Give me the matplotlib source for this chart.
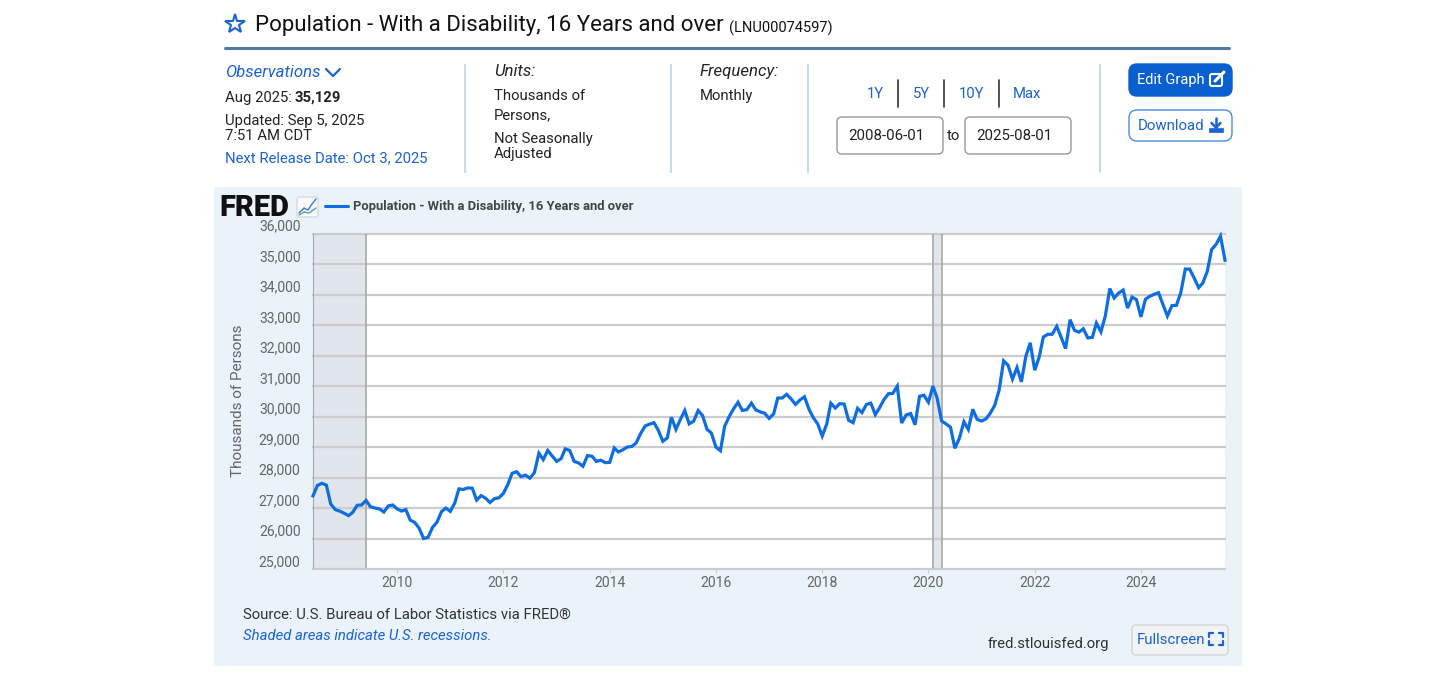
# -*- coding: utf-8 -*-
"""FRED page crop: population with a disability, 16 years and over."""
import matplotlib
matplotlib.use("Agg")
import matplotlib.pyplot as plt
import pandas as pd
from matplotlib.patches import FancyBboxPatch, Rectangle

W, H = 1450, 680
AZUL = "#1a62d6"
LINHA = "#0f6de2"
FUNDO = "#eaf2fa"
CINZA = "#666666"
TEXTO = "#222222"
CORPO = 14.9

plt.rcParams["font.family"] = ["Roboto", "DejaVu Sans"]

# values, one row per calendar year
v2008 = [27400, 27740, 27810, 27750, 27130, 26950, 26900]
v2009 = [26830, 26750, 26860, 27090, 27100, 27250, 27040, 27000, 26970, 26870, 27070, 27100]
v2010 = [26970, 26900, 26950, 26600, 26530, 26335, 26000, 26040, 26370, 26530, 26880, 27000]
v2011 = [26890, 27170, 27630, 27610, 27660, 27650, 27260, 27410, 27320, 27180, 27310, 27335]
v2012 = [27480, 27780, 28140, 28190, 28030, 28080, 27980, 28160, 28800, 28590, 28890, 28710]
v2013 = [28530, 28620, 28940, 28890, 28530, 28480, 28370, 28720, 28700, 28530, 28570, 28490]
v2014 = [28500, 28970, 28840, 28910, 29000, 29020, 29130, 29440, 29690, 29750, 29800, 29550]
v2015 = [29190, 29300, 29980, 29580, 29900, 30200, 29760, 29850, 30200, 30035, 29580, 29460]
v2016 = [29000, 28880, 29680, 30000, 30250, 30470, 30200, 30230, 30440, 30220, 30155, 30110]
v2017 = [29940, 30090, 30610, 30610, 30730, 30580, 30400, 30545, 30650, 30250, 29960, 29760]
v2018 = [29360, 29760, 30440, 30280, 30425, 30410, 29880, 29800, 30270, 30130, 30400, 30440]
v2019 = [30065, 30305, 30555, 30750, 30760, 31000, 29790, 30055, 30100, 29730, 30665, 30700]
v2020 = [30470, 31000, 30600, 29855, 29760, 29650, 28960, 29290, 29830, 29580, 30240, 29910]
v2021 = [29855, 29930, 30110, 30370, 30870, 31830, 31690, 31230, 31610, 31140, 31980, 32420]
v2022 = [31520, 31960, 32610, 32700, 32700, 32960, 32610, 32230, 33180, 32830, 32770, 32880]
v2023 = [32580, 32600, 33070, 32780, 33300, 34200, 33890, 34055, 34150, 33560, 33920, 33840]
v2024 = [33270, 33850, 33945, 34010, 34065, 33670, 33300, 33640, 33650, 34065, 34840, 34840]
v2025 = [34545, 34230, 34380, 34760, 35480, 35650, 35920, 35129]
valores = (v2008 + v2009 + v2010 + v2011 + v2012 + v2013 + v2014 + v2015 + v2016
           + v2017 + v2018 + v2019 + v2020 + v2021 + v2022 + v2023 + v2024 + v2025)
datas = pd.date_range("2008-06-01", periods=len(valores), freq="MS")

y_ticks = [25000, 26000, 27000, 28000, 29000, 30000, 31000, 32000, 33000, 34000, 35000, 36000]
x_anos = [2010, 2012, 2014, 2016, 2018, 2020, 2022, 2024]
recessoes = [("2008-06-01", "2009-06-01"), ("2020-02-01", "2020-04-01")]

fig = plt.figure(figsize=(W / 100, H / 100), dpi=100)
fig.patch.set_facecolor("white")

# page overlay in pixel coordinates, y going down
pg = fig.add_axes([0, 0, 1, 1])
pg.set_xlim(0, W)
pg.set_ylim(H, 0)
pg.axis("off")


def _t(x, y, s, px, cor=TEXTO, **kw):
    kw.setdefault("va", "center_baseline")
    return pg.text(x, y - 0.7, s, fontsize=px * 0.72, color=cor, **kw)


def _caixa(x0, y0, x1, y1, fc, ec, lw=1.0, r=5, z=2):
    pg.add_patch(FancyBboxPatch((x0 + r, y0 + r), x1 - x0 - 2 * r, y1 - y0 - 2 * r,
                                boxstyle=f"round,pad={r},rounding_size={r}",
                                fc=fc, ec=ec, lw=lw, zorder=z))


def _seg(xs, ys, cor, lw=1.5, z=3):
    pg.plot(xs, ys, color=cor, lw=lw, zorder=z, solid_capstyle="round")


# ------------------------------------------------------------ header
pg.plot([235.5], [24], marker="*", ms=15, mfc="none", mec=AZUL, mew=1.5)
_t(255, 24, "Population - With a Disability, 16 Years and over", 22.3, "#111111")
_t(729, 27, "(LNU00074597)", 14.6, "#111111")
_seg([225, 1229], [48, 48], "#4f7ca6", lw=2.2)

_t(225, 72, "Observations", 16.8, AZUL, style="italic")
_seg([326, 333, 340], [69, 76, 69], AZUL, lw=1.6)
_t(225, 97, "Aug 2025:", CORPO)
_t(295, 97, "35,129", CORPO, fontweight="bold")
_t(225, 120, "Updated: Sep 5, 2025", CORPO)
_t(225, 135, "7:51 AM CDT", CORPO)
_t(225, 157, "Next Release Date: Oct 3, 2025", CORPO, AZUL)

for x in [465, 671, 808, 1100]:
    _seg([x, x], [65, 172], "#c5dbe8", lw=1.5)

_t(494, 71, "Units:", 16.8, style="italic")
_t(494, 95, "Thousands of", CORPO)
_t(494, 114, "Persons,", CORPO)
_t(494, 138, "Not Seasonally", CORPO)
_t(494, 153, "Adjusted", CORPO)
_t(700, 71, "Frequency:", 16.8, style="italic")
_t(700, 95, "Monthly", CORPO)

for x, s in zip([875, 921, 972, 1027], ["1Y", "5Y", "10Y", "Max"]):
    _t(x, 93, s, CORPO, AZUL, ha="center")
for x in [898, 944, 999]:
    _seg([x, x], [80, 107], "#333333", lw=1.2)
_caixa(837, 117, 943, 154, "white", "#999999")
_caixa(965, 117, 1071, 154, "white", "#999999")
_t(886, 135, "2008-06-01", 15, ha="center")
_t(954, 135, "to", 15, ha="center")
_t(1014, 135, "2025-08-01", 15, ha="center")

_caixa(1129, 64, 1232, 96, "#0a5fcf", "#0a5fcf", r=8)
_t(1137, 79, "Edit Graph", 14.6, "white", zorder=4)
# edit icon
_caixa(1210, 74, 1222, 86, "none", "white", lw=1.5, r=2, z=4)
_seg([1215, 1224], [81, 72], "white", lw=2.2, z=5)

_caixa(1129, 110, 1232, 141, "white", "#4a8be0", r=8)
_t(1138, 125, "Download", 15, AZUL, zorder=4)
# download icon
_seg([1216, 1216], [118, 127], AZUL, lw=1.8, z=4)
_seg([1211.5, 1216, 1220.5], [123, 127.5, 123], AZUL, lw=1.8, z=4)
pg.add_patch(Rectangle((1209, 128), 14, 4, fc=AZUL, ec=AZUL, lw=0.5, zorder=4))

# ------------------------------------------------------------ chart panel
pg.add_patch(Rectangle((214, 187), 1028, 479, fc=FUNDO, ec="none", zorder=1))
_t(219, 205.5, "FRED", 29, "#111111", fontweight="black", zorder=4)
_caixa(297, 197, 318, 217, "#f7f9fb", "#cfd6dc", lw=0.8, r=2, z=3)
_seg([299, 304, 308, 312, 316], [213, 208, 210, 204, 199], "#3a7ad0", lw=1.0, z=4)
_seg([299, 304, 309, 316], [215, 212, 213, 208], "#4fa58a", lw=1.0, z=4)
_seg([325, 348], [206, 206], LINHA, lw=2.2)
_t(353, 206, "Population - With a Disability, 16 Years and over", 13, "#444444",
   fontweight="bold")
_t(238, 401, "Thousands of Persons", 15.3, CINZA, rotation=90, ha="center", va="center")

_t(243, 614, "Source: U.S. Bureau of Labor Statistics via FRED®", CORPO, "#333333")
_t(243, 635, "Shaded areas indicate U.S. recessions.", CORPO, AZUL, style="italic")
_t(988, 643, "fred.stlouisfed.org", CORPO, "#333333")
_caixa(1132, 625, 1228, 655, "#f1f3f5", "#d4d4d4", lw=1.0, r=4)
_t(1137, 639, "Fullscreen", 15, AZUL, zorder=4)
for xa, xb, ya, yb in [(1209, 1213, 637, 633), (1223, 1219, 637, 633),
                       (1209, 1213, 641, 645), (1223, 1219, 641, 645)]:
    _seg([xa, xa, xb], [ya, yb, yb], AZUL, lw=1.6, z=4)

# ------------------------------------------------------------ plot
esq, dir_, topo, base = 313, 1225, 233.7, 569
ax = fig.add_axes([esq / W, 1 - base / H, (dir_ - esq) / W, (base - topo) / H])
ax.set_facecolor("white")
ax.set_xlim(datas[0], datas[-1])
ax.set_ylim(y_ticks[0], y_ticks[-1])
ax.set_axisbelow(True)

for ini, fim in recessoes:
    ax.axvspan(pd.Timestamp(ini), pd.Timestamp(fim), fc="#e1e5ec", ec="none", zorder=0)
    ax.axvline(pd.Timestamp(fim), color="#a8a8a8", lw=1.2, zorder=1)
    ax.axvline(pd.Timestamp(ini), color="#a8a8a8", lw=1.2, zorder=1)

ax.grid(axis="y", color="#cccccc", lw=1.6, zorder=2)
ax.plot(datas, valores, color=LINHA, lw=2.3, zorder=3, clip_on=False,
        solid_joinstyle="miter")

for lado in ["top", "right"]:
    ax.spines[lado].set_visible(False)
ax.spines["left"].set_color("#a8a8a8")
ax.spines["bottom"].set_color("#cccccc")
ax.spines["bottom"].set_linewidth(1.2)

ax.set_yticks(y_ticks)
ax.set_yticklabels([f"{v:,}" for v in y_ticks], fontsize=14 * 0.72, color=CINZA)
ax.tick_params(axis="y", length=0, pad=9)
for rot in ax.get_yticklabels():
    rot.set_verticalalignment("bottom")
ax.set_xticks([pd.Timestamp(f"{a}-01-01") for a in x_anos])
ax.set_xticklabels(x_anos, fontsize=14 * 0.72, color=CINZA)
ax.tick_params(axis="x", length=3, width=0.8, color="#cccccc", pad=2)
for g in ax.get_ygridlines():
    g.set_clip_on(False)

fig.savefig("out.png", dpi=100, facecolor="white")
